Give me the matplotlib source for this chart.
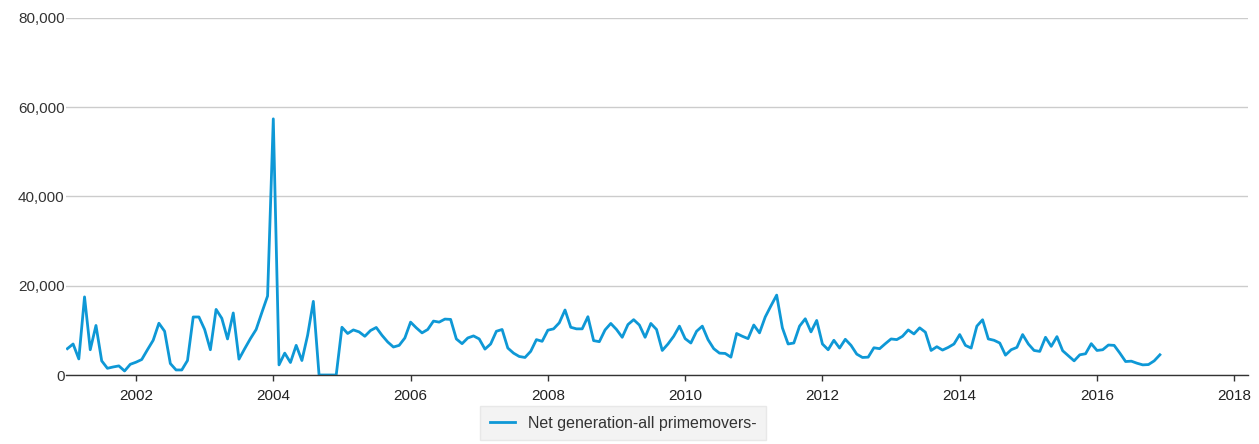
import numpy as np
import matplotlib.pyplot as plt
from matplotlib.ticker import FuncFormatter

plt.rcParams['font.family'] = ['Liberation Sans', 'DejaVu Sans']

# monthly values, Jan 2001 .. Dec 2016
net_gen = [
    5900, 6950, 3600, 17500, 5660, 11100, 3170, 1500, 1800, 2040, 900, 2400,
    2870, 3470, 5660, 7780, 11600, 9800, 2570, 1130, 1130, 3250, 13000, 13000,
    10200, 5660, 14700, 12700, 8080, 13900, 3550, 5900, 8150, 10200, 14000, 17700,
    57400, 2270, 4900, 2800, 6640, 3250, 8900, 16500, 0, 0, 0, 0,
    10700, 9300, 10100, 9660, 8680, 9970, 10650, 8900, 7400, 6270, 6640, 8300,
    11850, 10570, 9440, 10200, 12080, 11850, 12530, 12460, 8080, 7020, 8300, 8760,
    8080, 5800, 6950, 9800, 10200, 6040, 4900, 4150, 3930, 5300, 7930, 7550,
    10040, 10340, 11700, 14570, 10700, 10340, 10340, 13060, 7700, 7470, 10100, 11550,
    10200, 8450, 11300, 12400, 11200, 8450, 11550, 10200, 5500, 6950, 8680, 10950,
    8150, 7170, 9800, 10950, 7930, 5900, 4900, 4830, 4000, 9300, 8680, 8150,
    11200, 9440, 13000, 15500, 17900, 10570, 6950, 7170, 10950, 12600, 9660, 12230,
    6950, 5660, 7780, 6040, 8000, 6640, 4680, 3930, 4000, 6100, 5900, 7020,
    8080, 7930, 8680, 10100, 9200, 10570, 9590, 5500, 6340, 5590, 6190, 6950,
    9060, 6640, 6040, 10950, 12380, 8080, 7780, 7170, 4450, 5660, 6190, 9060,
    6950, 5500, 5290, 8450, 6420, 8600, 5440, 4300, 3170, 4530, 4760, 7020,
    5500, 5660, 6720, 6640, 4900, 3020, 3100, 2640, 2270, 2340, 3170, 4530,
]
start_year = 2001
series_name = 'Net generation-all primemovers-'
year_ticks = list(range(2002, 2019, 2))
y_ticks = [0, 20000, 40000, 60000, 80000]

t = start_year + np.arange(len(net_gen)) / 12

fig = plt.figure(figsize=(12.59, 4.44), dpi=100)
ax = fig.add_axes([66/1259, 69/444, 1182/1259, 357/444])

ax.plot(t, net_gen, color='#0e98d6', lw=2.0, label=series_name)

ax.set_xlim(2000.98, 2018.2)
ax.set_ylim(0, 80000)
ax.set_xticks(year_ticks)
ax.set_yticks(y_ticks)
ax.yaxis.set_major_formatter(FuncFormatter(lambda v, p: f'{int(v):,}'))
ax.grid(axis='y', color='#cccccc', lw=1)
ax.set_axisbelow(True)
for s in ['top', 'right', 'left']:
    ax.spines[s].set_visible(False)
ax.spines['bottom'].set_color('#333333')
ax.spines['bottom'].set_linewidth(1.0)
ax.tick_params(axis='y', length=0, pad=1, labelsize=11, labelcolor='#333333')
ax.tick_params(axis='x', length=4, width=1, color='#333333', pad=6,
               labelsize=11, labelcolor='#222222')

fig.legend(loc='center', bbox_to_anchor=(623/1259, 1 - 423/444), frameon=True,
           fancybox=False, facecolor='#f0f0f0', edgecolor='#e4e4e4',
           fontsize=11.5, handlelength=1.6, labelcolor='#333333',
           borderpad=0.6)

fig.savefig('out.png', dpi=100)
